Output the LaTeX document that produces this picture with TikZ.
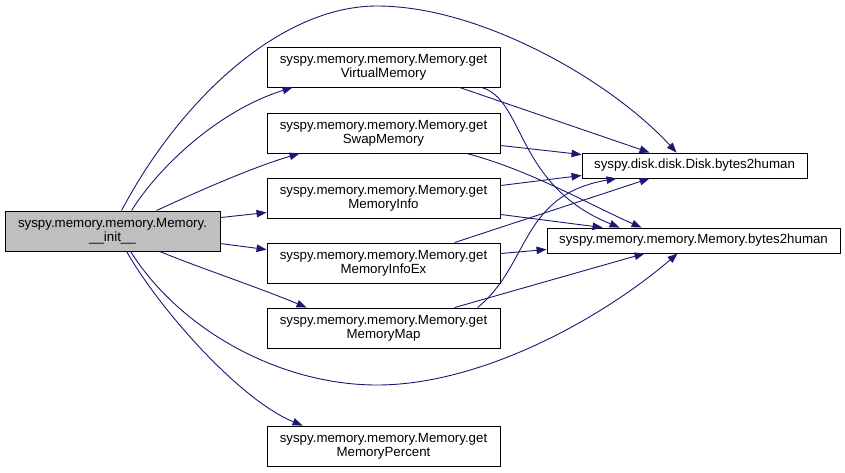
\documentclass[tikz,border=0pt]{standalone}
\usepackage{fontspec}
\setmainfont{Liberation Sans}
\usetikzlibrary{arrows.meta}
\definecolor{edgeblue}{HTML}{191970}
\definecolor{initgray}{HTML}{BFBFBF}
\begin{document}
\begin{tikzpicture}[x=1pt,y=-1pt,
  fnbox/.style={draw=black, line width=0.9pt, fill=white, align=center, inner sep=0pt,
                font=\fontsize{13.3}{14}\selectfont},
  midbox/.style={fnbox, minimum width=233pt, minimum height=40pt},
  edge/.style={draw=edgeblue, line width=0.9pt, -{Triangle[length=10pt,width=7.5pt]}}]
\useasboundingbox (0,0) rectangle (845,472);

\node[fnbox, fill=initgray, minimum width=215pt, minimum height=40pt] (init) at (112.5,231)
  {syspy.memory.memory.Memory.\\\_\_init\_\_};
\node[midbox] (vm)   at (383.5,67)  {syspy.memory.memory.Memory.get\\VirtualMemory};
\node[midbox] (swap) at (383.5,133) {syspy.memory.memory.Memory.get\\SwapMemory};
\node[midbox] (info) at (383.5,198) {syspy.memory.memory.Memory.get\\MemoryInfo};
\node[midbox] (infoex) at (383.5,263) {syspy.memory.memory.Memory.get\\MemoryInfoEx};
\node[midbox] (map)  at (383.5,328) {syspy.memory.memory.Memory.get\\MemoryMap};
\node[midbox] (pct)  at (383.5,446) {syspy.memory.memory.Memory.get\\MemoryPercent};
\node[fnbox, minimum width=225pt, minimum height=25pt] (disk) at (694.5,165.5)
  {syspy.disk.disk.Disk.bytes2human};
\node[fnbox, minimum width=293pt, minimum height=25pt] (memb) at (693.5,240.5)
  {syspy.memory.memory.Memory.bytes2human};

% from __init__
\draw[edge] ([xshift=127pt]init.north west) .. controls (160,165) and (220,110) .. ([xshift=26pt]vm.south west);
\draw[edge] ([xshift=152pt]init.north west) .. controls (190,195) and (250,168) .. ([xshift=33pt]swap.south west);
\draw[edge] ([yshift=-7pt]init.north east) -- ([yshift=-35pt]info.north west);
\draw[edge] ([yshift=-33pt]init.north east) -- ([yshift=-7pt]infoex.north west);
\draw[edge] ([xshift=155pt]init.south west) .. controls (200,268) and (260,288) .. ([xshift=40pt]map.north west);
\draw[edge] ([xshift=122pt]init.south west) .. controls (160,310) and (240,400) .. ([xshift=36pt]pct.north west);
\draw[edge] ([xshift=117pt]init.north west) .. controls (180,100) and (280,6) .. (377,6)
   .. controls (480,6) and (610,80) .. ([xshift=95pt]disk.north west);
\draw[edge] ([xshift=126pt]init.south west) .. controls (180,330) and (280,385) .. (377,385)
   .. controls (480,385) and (600,320) .. ([xshift=131pt]memb.south west);

% from getVirtualMemory
\draw[edge] ([xshift=193pt]vm.south west) -- ([xshift=68pt]disk.north west);
\draw[edge] ([xshift=215pt]vm.south west) .. controls (525,100) and (515,185) .. ([xshift=73pt]memb.north west);

% from getSwapMemory
\draw[edge] ([yshift=8pt]swap.south east) -- ([yshift=-2pt]disk.north west);
\draw[edge] ([xshift=200pt]swap.south west) .. controls (530,170) and (590,205) .. ([xshift=95pt]memb.north west);

% from getMemoryInfo
\draw[edge] ([yshift=-8pt]info.north east) -- ([yshift=3pt]disk.south west);
\draw[edge] ([yshift=4pt]info.south east) -- ([xshift=56pt]memb.north west);

% from getMemoryInfoEx
\draw[edge] ([xshift=188pt]infoex.north west) -- ([xshift=68pt]disk.south west);
\draw[edge] ([yshift=-11pt]infoex.north east) -- ([yshift=4pt]memb.south west);

% from getMemoryMap
\draw[edge] ([xshift=211pt]map.north west) .. controls (530,265) and (520,195) .. ([xshift=35pt]disk.south west);
\draw[edge] ([xshift=188pt]map.north west) -- ([xshift=98pt]memb.south west);
\end{tikzpicture}
\end{document}
